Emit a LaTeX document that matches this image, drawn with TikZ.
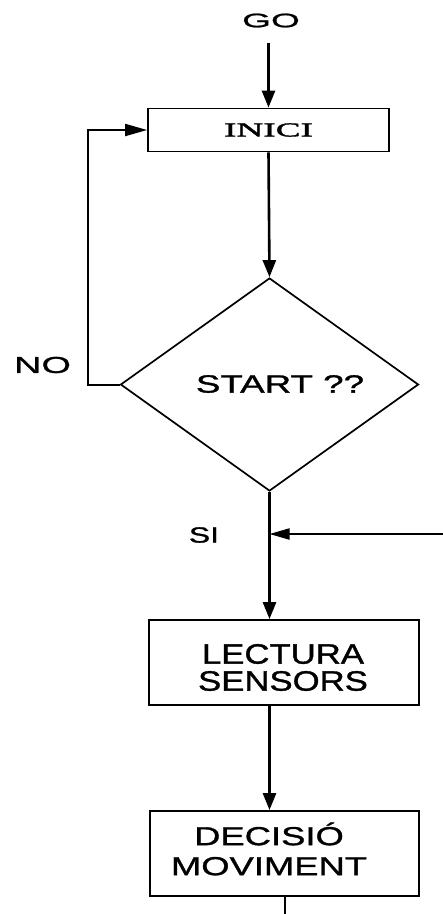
\documentclass[tikz,border=0pt]{standalone}
\usepackage{fontspec}
\setmainfont{Liberation Sans}
\usetikzlibrary{arrows.meta,shapes.geometric}
% widened, slightly heavier faces for the labels
\newfontfamily\sansGo[FakeStretch=1.9,FakeBold=1.2]{Liberation Sans}
\newfontfamily\sansNo[FakeStretch=1.65,FakeBold=1.2]{Liberation Sans}
\newfontfamily\sansStart[FakeStretch=1.47,FakeBold=1.2]{Liberation Sans}
\newfontfamily\sansSi[FakeStretch=1.45,FakeBold=1.2]{Liberation Sans}
\newfontfamily\sansLect[FakeStretch=1.24,FakeBold=1.2]{Liberation Sans}
\newfontfamily\sansDec[FakeStretch=1.4,FakeBold=1.2]{Liberation Sans}
\newfontfamily\serifWide[FakeStretch=1.9,FakeBold=2]{Liberation Serif}
\tikzset{
  stepbox/.style={draw, line width=1.8pt, inner sep=0pt, rectangle},
  flow/.style={line width=2.6pt, -{Triangle[length=17pt,width=13pt]}},
  plainline/.style={line width=2pt},
  txt/.style={inner sep=0pt, align=center},
}
\begin{document}
\begin{tikzpicture}[x=1pt,y=-1pt]
\useasboundingbox[fill=white] (0,0) rectangle (443,914);

% start label and first step
\node[txt, font=\sansGo\fontsize{19.5}{20}\selectfont] (go) at (271,20.5) {GO};
\node[stepbox, minimum width=241, minimum height=43,
      font=\serifWide\fontsize{19.6}{20}\selectfont] (inici) at (268.5,130) {INICI};

% decision
\node[draw, diamond, line width=1.7pt, inner sep=0pt, aspect=1.4,
      minimum width=298, minimum height=213] (dmd) at (269.5,384.5) {};
\node[txt, font=\sansStart\fontsize{25}{26}\selectfont] (starttxt) at (280,384) {START ??};
\node[txt, font=\sansNo\fontsize{23}{24}\selectfont] (no) at (42.5,365) {NO};
\node[txt, font=\sansSi\fontsize{22}{23}\selectfont] (si) at (204,535) {SI};

% processing steps
\node[stepbox, minimum width=270, minimum height=85] (lect) at (284,662.5) {};
\node[txt, font=\sansLect\fontsize{28}{27}\selectfont] (lecttxt) at (283,667.5) {LECTURA\\SENSORS};
\node[stepbox, minimum width=269, minimum height=85] (dec) at (284.5,853.5) {};
\node[txt, font=\sansDec\fontsize{26}{30}\selectfont] (dectxt) at (269,849) {DECISIÓ\\MOVIMENT};

\coordinate (ret) at (443,534);
\coordinate (out) at (284.5,914);

% connectors
\draw[flow, shorten <=15pt] (inici.north |- go.south) -- (inici.north);
\draw[flow] (inici.south) -- (dmd.north);
\draw[plainline, -{Triangle[length=22pt,width=12pt]}]
  (dmd.west) -- ++(-31.5,0) |- (inici.west);
\draw[flow] (dmd.south) -- (dmd.south |- lect.north);
\draw[plainline, -{Triangle[length=20pt,width=11pt]}] (ret) -- (ret -| dmd.south);
\draw[flow] (lect.south -| dmd.south) -- (dec.north -| dmd.south);
\draw[plainline] (dec.south) -- (out);
\end{tikzpicture}
\end{document}
